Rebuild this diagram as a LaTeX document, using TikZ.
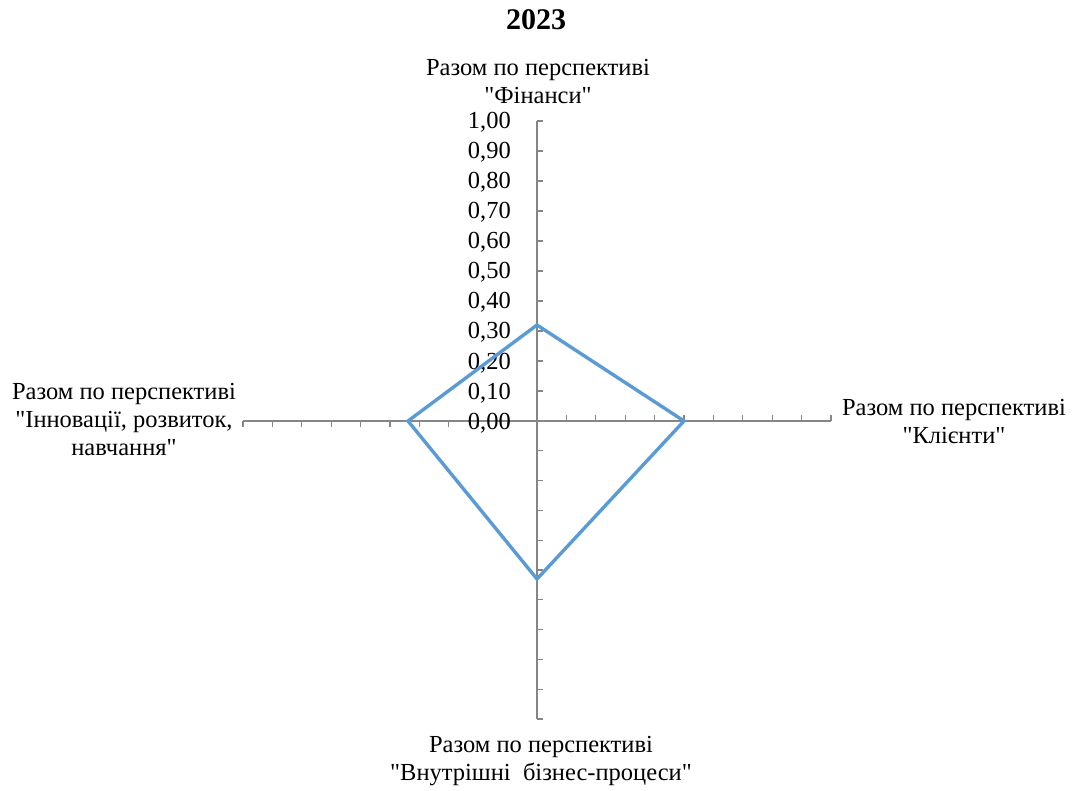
\documentclass[tikz,border=0pt]{standalone}
\usepackage{fontspec}
\setmainfont{Liberation Serif}[Ligatures=TeXOff]
\usetikzlibrary{positioning}
\definecolor{axisgray}{RGB}{134,134,134}
\definecolor{seriesblue}{RGB}{91,155,213}

\begin{document}
\begin{tikzpicture}[x=1pt,y=-1pt,
		lbl/.style={align=center,inner sep=0pt,font=\fontsize{24.5}{28}\selectfont},
		ticklbl/.style={anchor=base east,inner sep=0pt,font=\fontsize{24.5}{28}\selectfont},
		axisline/.style={draw=axisgray,line width=1.1pt},
		series/.style={draw=seriesblue,line width=3.4pt,line join=miter}]
		\useasboundingbox (0,0) rectangle (1073,791);
		\node[font=\fontsize{30}{34}\selectfont\bfseries] (title) at (536,20) {2023};
		% axes
		\coordinate (o) at (537,421);
		\coordinate (axtop) at (537,121);
		\coordinate (axright) at (831,421);
		\coordinate (axbottom) at (537,719);
		\coordinate (axleft) at (243,421);
		\draw[axisline] (axtop) -- (axbottom);
		\draw[axisline] (axleft) -- (axright);
		\foreach \i in {1,...,10} {
			\draw[axisline] (537,421-30*\i) -- ++(6,0);
			\draw[axisline] (537,421+29.8*\i) -- ++(6,0);
			\draw[axisline] (537+29.4*\i,421) -- ++(0,-6);
			\draw[axisline] (537-29.4*\i,421) -- ++(0,6);
		}
		% value labels
		\foreach \i in {0,...,9}
			\node[ticklbl] (t\i) at (511,429-30*\i) {0,\i0};
		\node[ticklbl] (t10) at (511,129) {1,00};
		% perspectives
		\node[lbl] (fin) at (538,82) {Разом по перспективі\\"Фінанси"};
		\node[lbl] (kli) at (954,422) {Разом по перспективі\\"Клієнти"};
		\node[lbl] (proc) at (541,761) {Разом по перспективі\\"Внутрішні\ \ бізнес-процеси"};
		\node[lbl] (innov) at (124,420) {Разом по перспективі\\"Інновації, розвиток,\\навчання"};
		% series
		\coordinate (vfin) at (537,325);
		\coordinate (vkli) at (684,421);
		\coordinate (vproc) at (537,579);
		\coordinate (vinnov) at (408,421);
		\draw[series] (vfin) -- (vkli) -- (vproc) -- (vinnov) -- cycle;
	\end{tikzpicture}
\end{document}
